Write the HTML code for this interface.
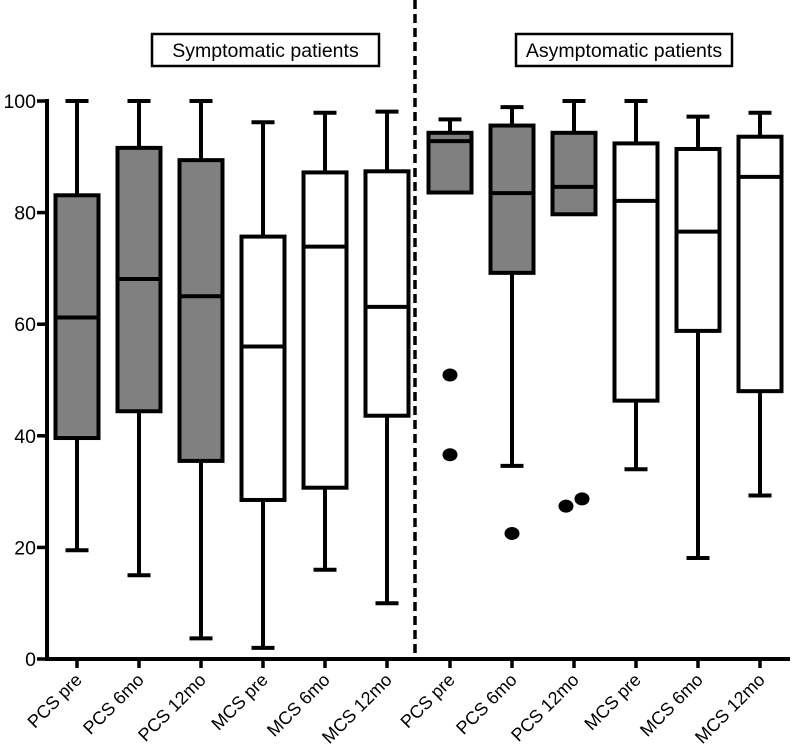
<!DOCTYPE html>
<html><head><meta charset="utf-8"><style>
html,body{margin:0;padding:0;background:#fff}
svg{display:block;font-family:"Liberation Sans",Arial,sans-serif}
</style></head><body>
<svg id="chart" width="793" height="746" viewBox="0 0 793 746" xmlns="http://www.w3.org/2000/svg"></svg>
<script>
const categories = ["PCS pre","PCS 6mo","PCS 12mo","MCS pre","MCS 6mo","MCS 12mo","PCS pre","PCS 6mo","PCS 12mo","MCS pre","MCS 6mo","MCS 12mo"];
const whiskerHigh = [100,100,100,96.2,97.9,98.1, 96.7,98.9,100,100,97.2,97.9];
const q3Values    = [83.1,91.6,89.4,75.7,87.2,87.4, 94.3,95.6,94.3,92.4,91.4,93.6];
const medians     = [61.2,68.1,65.0,56.0,73.9,63.1, 92.8,83.5,84.6,82.1,76.6,86.4];
const q1Values    = [39.6,44.4,35.5,28.5,30.7,43.6, 83.6,69.2,79.7,46.3,58.8,48.0];
const whiskerLow  = [19.5,15.0,3.7,2.0,16.0,10.0, 83.6,34.6,79.7,34.0,18.1,29.3];
const filled      = [1,1,1,0,0,0, 1,1,1,0,0,0];
const outlierCat  = [6,6,7,8,8];
const outlierVal  = [50.9,36.6,22.5,27.4,28.7];
const outlierDx   = [0,0,0,-8,8];
const yTicks = [0,20,40,60,80,100];
const groupTitles = ["Symptomatic patients","Asymptomatic patients"];

const NS="http://www.w3.org/2000/svg";
const svg=document.getElementById('chart');
const y0=659, y100=101;
const yS=v=>y0-(y0-y100)*v/100;
const xS=i=>i<6?77+i*62:450+(i-6)*62;
function mk(t,a,p){const e=document.createElementNS(NS,t);for(const k in a)e.setAttribute(k,a[k]);(p||svg).appendChild(e);return e;}
const K="#000";
let ax=mk('line',{x1:47,y1:99,x2:47,y2:661,stroke:K,'stroke-width':4});


let bx=mk('line',{x1:45,y1:y0,x2:790,y2:y0,stroke:K,'stroke-width':4});


yTicks.forEach(v=>{
  const l=mk('line',{x1:37,y1:yS(v),x2:47,y2:yS(v),stroke:K,'stroke-width':3.5});
  
  
  const t=mk('text',{x:36,y:yS(v)+7,'text-anchor':'end','font-size':19.5});
  t.textContent=v;
  
  
});
let dv=mk('line',{x1:415,y1:0,x2:415,y2:659,stroke:K,'stroke-width':3.5,'stroke-dasharray':'9,5'});


[[152,227],[516,216]].forEach((b,i)=>{
  const g=mk('g',{});
  
  
  mk('rect',{x:b[0],y:34,width:b[1],height:32,fill:'#fff',stroke:K,'stroke-width':2.5},g);
  const t=mk('text',{x:b[0]+b[1]/2,y:57,'text-anchor':'middle','font-size':19.5},g);
  t.textContent=groupTitles[i];
});
categories.forEach((c,i)=>{
  const x=xS(i), w=43, cw=23;
  const g=mk('g',{});
  
  
  const sw=4;
  mk('line',{x1:x,y1:yS(whiskerHigh[i]),x2:x,y2:yS(q3Values[i]),stroke:K,'stroke-width':sw},g);
  mk('line',{x1:x-cw/2,y1:yS(whiskerHigh[i]),x2:x+cw/2,y2:yS(whiskerHigh[i]),stroke:K,'stroke-width':sw},g);
  mk('line',{x1:x,y1:yS(q1Values[i]),x2:x,y2:yS(whiskerLow[i]),stroke:K,'stroke-width':sw},g);
  if(whiskerLow[i]<q1Values[i]) mk('line',{x1:x-cw/2,y1:yS(whiskerLow[i]),x2:x+cw/2,y2:yS(whiskerLow[i]),stroke:K,'stroke-width':sw},g);
  mk('rect',{x:x-w/2,y:yS(q3Values[i]),width:w,height:yS(q1Values[i])-yS(q3Values[i]),fill:filled[i]?'#808080':'#fff',stroke:K,'stroke-width':sw},g);
  mk('line',{x1:x-w/2,y1:yS(medians[i]),x2:x+w/2,y2:yS(medians[i]),stroke:K,'stroke-width':sw},g);
  const tk=mk('line',{x1:x,y1:y0,x2:x,y2:y0+9,stroke:K,'stroke-width':3.5});
  
  
  const t=mk('text',{x:0,y:0,'text-anchor':'end','font-size':18,transform:`translate(${x+6},${y0+22}) rotate(-45)`});
  t.textContent=c;
  
  
});
outlierVal.forEach((v,k)=>{
  const e=mk('ellipse',{cx:xS(outlierCat[k])+outlierDx[k],cy:yS(v),rx:7.5,ry:6.5,fill:K});
  
  
});
</script>
</body></html>
